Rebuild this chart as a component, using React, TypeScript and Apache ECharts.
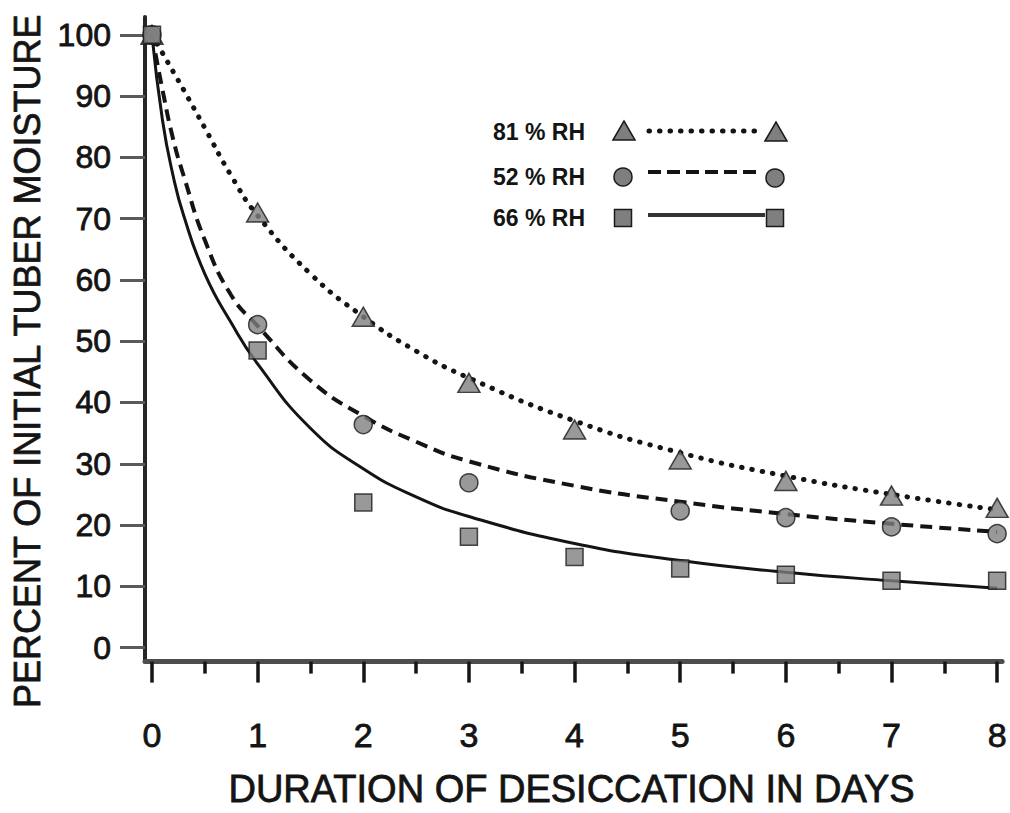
import React, { useEffect, useRef } from "react";
import * as echarts from "echarts";

// ---- data ----
const days = [0, 1, 2, 3, 4, 5, 6, 7, 8];
const rh81Points: (number | null)[] = [100, 71, 54, 43.2, 35.6, 30.7, 27.2, 24.8, 22.8];
const rh52Points: (number | null)[] = [100, 52.7, 36.4, 26.9, null, 22.3, 21.2, 19.7, 18.6];
const rh66Points: (number | null)[] = [100, 48.5, 23.7, 18.1, 14.8, 12.9, 11.9, 10.9, 10.9];

const curveDays = [0, 0.1, 0.2, 0.3, 0.5, 0.75, 1, 1.5, 2, 2.5, 3, 4, 5, 6, 7, 8];
const rh81Curve = [100, 97, 94, 91, 84.8, 77, 70.5, 61, 54, 48.4, 44, 37, 31.8, 28, 25, 22.5];
const rh52Curve = [100, 91, 83, 77, 66.5, 57.5, 52.5, 43.6, 37.8, 33.6, 30.4, 26.4, 23.8, 21.8, 20.2, 18.9];
const rh66Curve = [100, 86, 77, 70.5, 61, 53, 46.3, 35.8, 29.2, 24.6, 21.4, 17, 14.2, 12.3, 10.9, 9.7];

const xTickValues = [0, 1, 2, 3, 4, 5, 6, 7, 8];
const xMinorTickValues = [0.5, 1.5, 2.5, 3.5, 4.5, 5.5, 6.5, 7.5];
const yTickValues = [0, 10, 20, 30, 40, 50, 60, 70, 80, 90, 100];

const legendLabels = ["81 % RH", "52 % RH", "66 % RH"];
const xTitle = "DURATION OF DESICCATION IN DAYS";
const yTitle = "PERCENT OF INITIAL TUBER MOISTURE";

const FONT = '"Liberation Sans", Arial, Helvetica, sans-serif';
const INK = "#141414";
const MARK_FILL = "#7f7f7f";

const pairs = (xs: number[], ys: (number | null)[]) =>
  xs.map((x, i) => [x, ys[i]]).filter((p) => p[1] !== null);

export default function App() {
  const ref = useRef<HTMLDivElement>(null);

  useEffect(() => {
    if (!ref.current) return;
    const chart = echarts.init(ref.current, undefined, { renderer: "svg" });

    const xMin = -0.066;
    const xMax = 8.047;

    const lineBase = { type: "line", showSymbol: false, smooth: 0.5, z: 2, silent: true };
    const markBase = {
      type: "scatter",
      z: 5,
      itemStyle: { color: MARK_FILL, borderColor: "#1a1a1a", borderWidth: 1.5 },
    };
    const heavy = { textBorderColor: INK, textBorderWidth: 0.8 };

    const markerStyle = { fill: MARK_FILL, stroke: "#1a1a1a", lineWidth: 1.5 };
    const legendText = (text: string, y: number) => ({
      type: "text",
      x: 493,
      y,
      style: { text, fontSize: 23, fontWeight: "bold", fontFamily: FONT, fill: INK, verticalAlign: "middle" },
    });
    const tri = (cx: number, cy: number) => ({
      type: "polygon",
      shape: { points: [[cx - 11, cy + 9], [cx, cy - 10], [cx + 11, cy + 9]] },
      style: markerStyle,
    });
    const circ = (cx: number, cy: number) => ({ type: "circle", shape: { cx, cy, r: 9 }, style: markerStyle });
    const sq = (cx: number, cy: number) => ({
      type: "rect",
      shape: { x: cx - 8.5, y: cy - 8.5, width: 17, height: 17 },
      style: markerStyle,
    });

    chart.setOption({
      animation: false,
      backgroundColor: "#ffffff",
      grid: { left: 145, right: 7, top: 17, bottom: 151, containLabel: false },
      xAxis: [
        {
          type: "value",
          min: xMin,
          max: xMax,
          position: "bottom",
          axisLine: { show: true, onZero: false, lineStyle: { color: "#4d4d4d", width: 5 } },
          axisTick: { show: true, customValues: xTickValues, length: 21, lineStyle: { color: INK, width: 3.5 } },
          axisLabel: { show: true, customValues: xTickValues, margin: 56, fontSize: 34, color: INK, fontFamily: FONT, ...heavy },
          splitLine: { show: false },
          name: xTitle,
          nameLocation: "middle",
          nameGap: 108,
          nameTextStyle: { fontSize: 38, color: INK, fontFamily: FONT, padding: [0, 4, 0, 0], ...heavy },
        },
        {
          type: "value",
          min: xMin,
          max: xMax,
          position: "bottom",
          offset: 0,
          axisLine: { show: false, onZero: false },
          axisTick: { show: true, customValues: xMinorTickValues, length: 12, lineStyle: { color: INK, width: 3.5 } },
          axisLabel: { show: false },
          splitLine: { show: false },
        },
      ],
      yAxis: {
        type: "value",
        min: -2.28,
        max: 102.9,
        axisLine: { show: true, onZero: false, lineStyle: { color: "#262626", width: 4 } },
        axisTick: { show: true, customValues: yTickValues, length: 25, lineStyle: { color: "#5a5a5a", width: 3 } },
        axisLabel: { show: true, customValues: yTickValues, margin: 34, fontSize: 32, color: INK, fontFamily: FONT, ...heavy },
        splitLine: { show: false },
        name: yTitle,
        nameLocation: "middle",
        nameRotate: 90,
        nameGap: 100,
        nameTextStyle: { fontSize: 36, color: INK, fontFamily: FONT, padding: [0, 44, 0, 0], ...heavy },
      },
      series: [
        {
          ...lineBase,
          name: "81 % RH curve",
          data: pairs(curveDays, rh81Curve),
          lineStyle: { color: INK, width: 5, type: [0.5, 10], cap: "round" },
        },
        {
          ...lineBase,
          name: "52 % RH curve",
          data: pairs(curveDays, rh52Curve),
          lineStyle: { color: INK, width: 4, type: [12, 7], cap: "butt" },
        },
        {
          ...lineBase,
          name: "66 % RH curve",
          data: pairs(curveDays, rh66Curve),
          lineStyle: { color: INK, width: 3 },
        },
        { ...markBase, name: "81 % RH", symbol: "triangle", symbolSize: [22, 19], data: pairs(days, rh81Points) },
        { ...markBase, name: "52 % RH", symbol: "circle", symbolSize: 18, data: pairs(days, rh52Points) },
        { ...markBase, name: "66 % RH", symbol: "rect", symbolSize: 17, data: pairs(days, rh66Points) },
      ],
      graphic: [
        legendText(legendLabels[0], 132),
        tri(624, 131),
        {
          type: "line",
          shape: { x1: 649, y1: 131, x2: 757, y2: 131 },
          style: { stroke: INK, lineWidth: 5, lineDash: [0.5, 10], lineCap: "round" },
        },
        tri(776, 132),
        legendText(legendLabels[1], 177),
        circ(623, 177),
        {
          type: "line",
          shape: { x1: 648, y1: 172, x2: 762, y2: 172 },
          style: { stroke: INK, lineWidth: 4, lineDash: [13, 6] },
        },
        circ(775, 178),
        legendText(legendLabels[2], 218),
        sq(623, 218),
        {
          type: "line",
          shape: { x1: 648, y1: 215, x2: 765, y2: 215 },
          style: { stroke: "#333", lineWidth: 4 },
        },
        sq(775, 218),
      ],
    });

    return () => chart.dispose();
  }, []);

  return (
    <div
      ref={ref}
      style={{ position: "fixed", left: 0, top: 0, width: 1010, height: 813, background: "#fff" }}
    />
  );
}
